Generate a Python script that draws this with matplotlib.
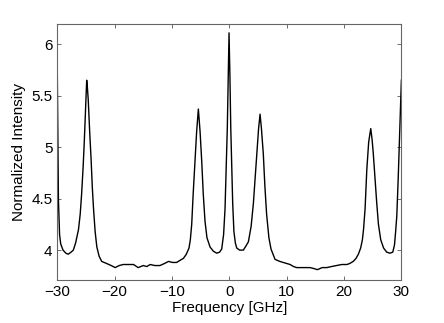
import matplotlib
matplotlib.use('Agg')
import matplotlib.pyplot as plt

# Spectrum
freq = [-30.0, -29.8, -29.6, -29.4, -29.0, -28.5, -28.1, -27.6, -27.2, -26.8,
        -26.3, -26.0, -25.75, -25.5, -25.3, -25.05, -24.87, -24.75, -24.6, -24.35,
        -24.1, -23.9, -23.7, -23.4, -23.1, -22.7, -22.25, -21.4, -20.6, -19.9,
        -19.2, -18.5, -17.6, -16.7, -15.9, -15.0, -14.4, -13.8, -13.0, -12.1,
        -11.3, -10.6, -9.9, -9.2, -8.6, -8.0, -7.5, -7.03, -6.8, -6.56,
        -6.3, -6.0, -5.7, -5.4, -5.1, -4.81, -4.55, -4.24, -3.9, -3.36,
        -2.8, -2.2, -1.7, -1.33, -1.0, -0.75, -0.55, -0.35, -0.2, -0.05,
        0.1, 0.25, 0.42, 0.59, 0.8, 1.05, 1.29, 1.8, 2.45, 2.9,
        3.32, 3.8, 4.19, 4.5, 4.78, 5.1, 5.36, 5.6, 5.93, 6.2,
        6.5, 6.9, 7.27, 7.97, 8.8, 10.0, 10.6, 11.2, 11.76, 12.3,
        13.2, 14.1, 14.8, 15.35, 16.2, 17.0, 17.8, 18.7, 19.6, 20.5,
        21.0, 21.6, 22.1, 22.5, 22.9, 23.2, 23.4, 23.67, 23.97, 24.3,
        24.66, 24.9, 25.1, 25.4, 25.7, 26.0, 26.4, 26.9, 27.45, 28.0,
        28.5, 28.8, 29.0, 29.2, 29.45, 29.65, 29.85, 30.0]
intensity = [5.74, 4.49, 4.15, 4.06, 4.00, 3.97, 3.96, 3.98, 4.00, 4.07,
             4.20, 4.35, 4.55, 4.80, 5.04, 5.40, 5.65, 5.58, 5.46, 5.15,
             4.88, 4.62, 4.42, 4.18, 4.03, 3.94, 3.89, 3.87, 3.85, 3.83,
             3.85, 3.86, 3.86, 3.86, 3.83, 3.85, 3.84, 3.86, 3.85, 3.85,
             3.87, 3.89, 3.88, 3.88, 3.90, 3.92, 3.96, 4.02, 4.10, 4.25,
             4.55, 4.86, 5.15, 5.37, 5.15, 4.86, 4.55, 4.28, 4.12, 4.03,
             3.99, 3.97, 3.98, 4.01, 4.15, 4.40, 4.80, 5.19, 5.65, 6.11,
             5.70, 5.19, 4.80, 4.45, 4.18, 4.07, 4.02, 4.00, 4.00, 4.04,
             4.08, 4.23, 4.45, 4.70, 4.93, 5.18, 5.32, 5.18, 4.93, 4.62,
             4.35, 4.12, 4.01, 3.91, 3.89, 3.87, 3.86, 3.84, 3.83, 3.83,
             3.83, 3.83, 3.82, 3.81, 3.83, 3.83, 3.84, 3.85, 3.86, 3.86,
             3.87, 3.89, 3.92, 3.96, 4.02, 4.10, 4.20, 4.40, 4.78, 5.05,
             5.18, 5.07, 4.94, 4.70, 4.46, 4.25, 4.10, 4.02, 3.98, 3.97,
             3.98, 4.05, 4.18, 4.33, 4.70, 5.04, 5.40, 5.65]

xticks = [-30, -20, -10, 0, 10, 20, 30]
yticks = [4, 4.5, 5, 5.5, 6]

plt.rcParams['font.family'] = ['Liberation Sans', 'DejaVu Sans']
plt.rcParams['axes.unicode_minus'] = True

fig = plt.figure(figsize=(4.44, 3.23), dpi=100)
ax = fig.add_axes([0.129, 0.132, 0.775, 0.794])

ax.plot(freq, intensity, color='black', linewidth=1.0)

ax.set_xlim(-30, 30)
ax.set_ylim(3.706, 6.197)
ax.set_xticks(xticks)
ax.set_yticks(yticks)
ax.set_yticklabels(['4', '4.5', '5', '5.5', '6'])
ax.tick_params(direction='in', length=3, width=0.6, labelsize=11,
               top=True, right=True, colors='#555555', labelcolor='black')
for s in ax.spines.values():
    s.set_color('#666666')
    s.set_linewidth(0.8)

ax.set_xlabel('Frequency [GHz]', fontsize=11, labelpad=1)
ax.set_ylabel('Normalized Intensity', fontsize=11, labelpad=4)

fig.savefig('out.png', dpi=100)
